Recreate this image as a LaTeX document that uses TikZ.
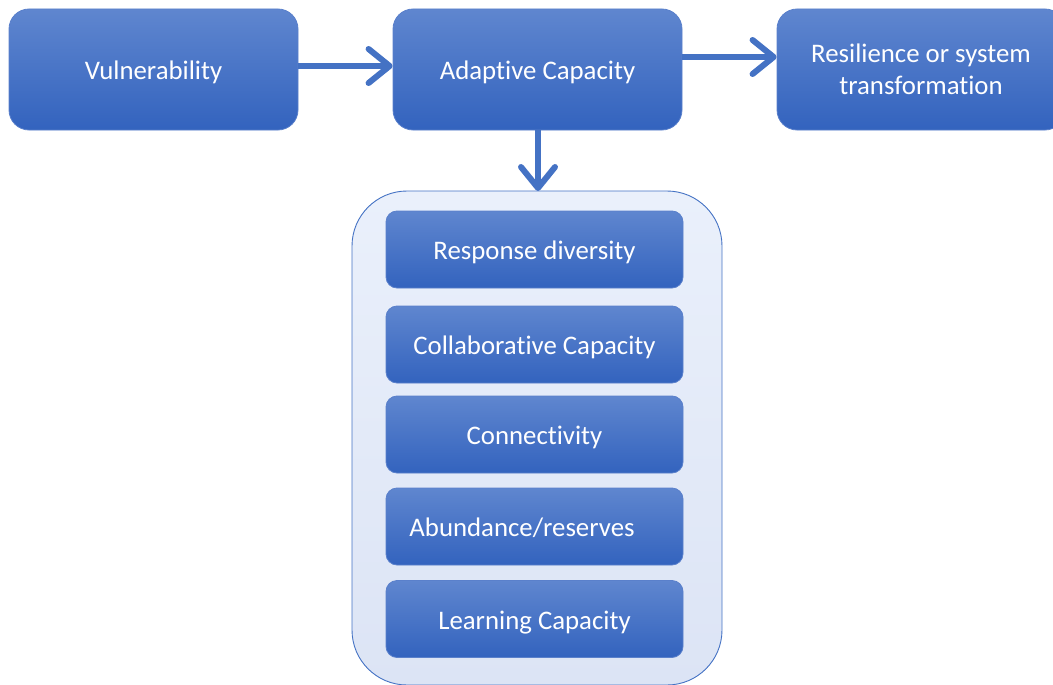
\documentclass[tikz,border=0pt]{standalone}
\usepackage{fontspec}
\setmainfont[Ligatures=NoCommon]{Carlito}
\usetikzlibrary{arrows.meta}
\definecolor{boxtop}{HTML}{5F86CF}
\definecolor{boxbot}{HTML}{3363BE}
\definecolor{boxline}{HTML}{5A80CB}
\definecolor{arrowc}{HTML}{4472C4}
\definecolor{contop}{HTML}{EAF0FB}
\definecolor{conbot}{HTML}{DCE4F5}
\tikzset{
  bigbox/.style={draw=boxline, line width=0.8pt, top color=boxtop, bottom color=boxbot,
    rounded corners=20pt, text=white, font=\fontsize{26.8}{32}\selectfont, align=center, inner sep=0pt},
  oneline/.style={text height=22pt, text depth=2pt},
  smallbox/.style={draw=boxline, line width=0.8pt, top color=boxtop, bottom color=boxbot,
    rounded corners=11pt, text=white, font=\fontsize{26.8}{32}\selectfont, align=center, inner sep=0pt,
    minimum width=297pt, minimum height=77pt, oneline},
  container/.style={draw=arrowc, line width=0.9pt, top color=contop, bottom color=conbot,
    rounded corners=55pt, inner sep=0pt, minimum width=370pt, minimum height=494pt},
  flow/.style={draw=arrowc, line width=6pt, -{Straight Barb[length=21pt,width=34pt,round]}}
}
\begin{document}
\begin{tikzpicture}[x=1pt,y=-1pt]
\useasboundingbox (0,0) rectangle (1053,685);
\clip (0,0) rectangle (1053,685);
\node[bigbox, oneline, minimum width=289pt, minimum height=121pt] (vul) at (153.5,69.5) {Vulnerability};
\node[bigbox, oneline, minimum width=289pt, minimum height=121pt] (ada) at (537.5,69.5) {Adaptive Capacity};
\node[bigbox, minimum width=288pt, minimum height=121pt] (res) at (921,69.5) {Resilience or system\\transformation};
\node[container] (con) at (537,438) {};
\node[smallbox] (rd) at (534.5,249.5) {Response diversity};
\node[smallbox] (cc) at (534.5,344.5) {Collaborative Capacity};
\node[smallbox] (cn) at (534.5,434.5) {Connectivity};
\node[smallbox] (ab) at (534.5,526.5) {Abundance/reserves\hspace{25pt}};
\node[smallbox] (lc) at (534.5,619) {Learning Capacity};
\coordinate (a1s) at (vul.east |- 0,66);
\coordinate (a1e) at (ada.west |- 0,66);
\draw[flow] (a1s) -- (a1e);
\coordinate (a2s) at (ada.east |- 0,57);
\coordinate (a2e) at (res.west |- 0,57);
\draw[flow] (a2s) -- (a2e);
\coordinate (a3s) at (538,130);
\coordinate (a3e) at (538,191);
\draw[flow] (a3s) -- (a3e);
\end{tikzpicture}
\end{document}
